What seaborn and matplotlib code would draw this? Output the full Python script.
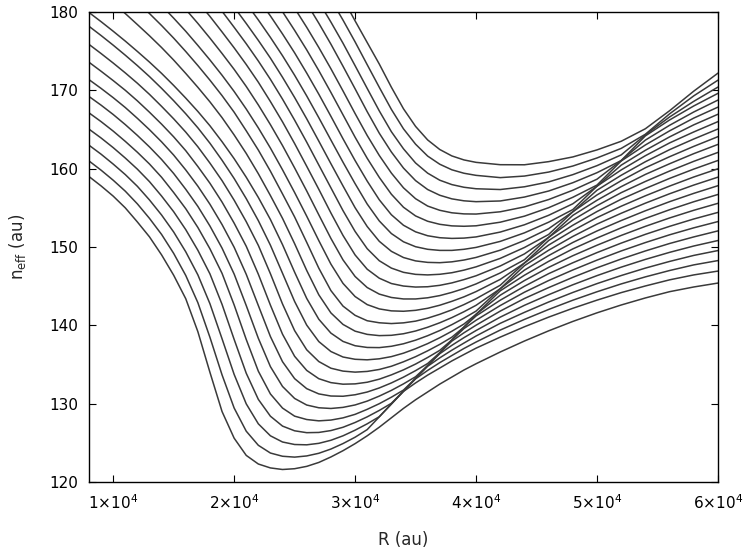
import numpy as np
import pandas as pd
import seaborn as sns
import matplotlib.pyplot as plt

nan = np.nan

# R grid (au): 1000 steps up to 40000, then 2000 steps
R = [8000, 9000, 10000, 11000, 12000, 13000, 14000, 15000, 16000, 17000,
     18000, 19000, 20000, 21000, 22000, 23000, 24000, 25000, 26000, 27000,
     28000, 29000, 30000, 31000, 32000, 33000, 34000, 35000, 36000, 37000,
     38000, 39000, 40000, 42000, 44000, 46000, 48000, 50000, 52000, 54000,
     56000, 58000, 60000]

# n_eff, one list per curve (bottom to top), nan = above the frame
n00 = [159.0, 157.8, 156.5, 155.0, 153.2, 151.3, 149.0, 146.4, 143.4, 139.2, 134.0, 129.0, 125.6, 123.4, 122.3, 121.8, 121.6, 121.7, 122.0, 122.5, 123.2, 124.0, 124.9, 125.9, 127.0, 128.2, 129.4, 130.5, 131.5, 132.5, 133.4, 134.3, 135.1,
       136.6, 138.0, 139.3, 140.5, 141.6, 142.6, 143.5, 144.3, 144.9, 145.4]
n01 = [160.99, 159.81, 158.53, 157.13, 155.51, 153.66, 151.61, 149.19, 146.37, 142.9, 138.47, 133.68, 129.45, 126.49, 124.69, 123.7, 123.29, 123.18, 123.33, 123.67, 124.21, 124.91, 125.72, 126.69, 128.32, 129.96, 131.57, 132.65, 133.65, 134.55, 135.46, 136.28, 137.09,
       138.5, 139.82, 141.05, 142.18, 143.22, 144.18, 145.03, 145.81, 146.44, 146.93]
n02 = [163.0, 161.85, 160.59, 159.25, 157.75, 156.01, 154.09, 151.92, 149.39, 146.45, 142.76, 138.29, 133.74, 129.98, 127.43, 125.9, 125.11, 124.79, 124.75, 124.94, 125.33, 125.9, 126.62, 127.43, 128.34, 129.96, 131.6, 133.17, 134.25, 135.24, 136.15, 137.05, 137.87,
       139.4, 140.76, 142.03, 143.21, 144.29, 145.29, 146.19, 147.0, 147.72, 148.27]
n03 = [165.05, 163.92, 162.69, 161.36, 159.94, 158.35, 156.51, 154.51, 152.22, 149.59, 146.57, 142.68, 138.21, 133.89, 130.55, 128.4, 127.14, 126.54, 126.3, 126.33, 126.57, 126.99, 127.6, 128.32, 129.14, 130.05, 131.6, 133.23, 134.78, 135.85, 136.83, 137.74, 138.64,
       140.26, 141.66, 142.98, 144.2, 145.33, 146.36, 147.31, 148.16, 148.93, 149.55]
n04 = [167.13, 166.01, 164.8, 163.49, 162.1, 160.6, 158.91, 156.96, 154.89, 152.5, 149.77, 146.64, 142.61, 138.2, 134.15, 131.24, 129.44, 128.41, 127.98, 127.81, 127.91, 128.19, 128.64, 129.28, 130.0, 130.83, 131.74, 133.23, 134.87, 136.38, 137.45, 138.43, 139.34,
       141.05, 142.56, 143.91, 145.18, 146.35, 147.43, 148.42, 149.32, 150.13, 150.83]
n05 = [169.22, 168.11, 166.92, 165.63, 164.25, 162.78, 161.18, 159.39, 157.37, 155.19, 152.68, 149.86, 146.55, 142.53, 138.35, 134.73, 132.2, 130.67, 129.83, 129.48, 129.39, 129.53, 129.84, 130.33, 130.97, 131.7, 132.53, 133.44, 134.87, 136.5, 137.99, 139.05, 140.02,
       141.82, 143.43, 144.82, 146.13, 147.35, 148.47, 149.5, 150.45, 151.29, 152.06]
n06 = [171.37, 170.25, 169.07, 167.81, 166.43, 164.98, 163.43, 161.74, 159.84, 157.77, 155.46, 152.87, 149.97, 146.52, 142.53, 138.57, 135.36, 133.2, 131.92, 131.25, 130.98, 130.95, 131.14, 131.49, 132.01, 132.65, 133.39, 134.22, 135.13, 136.5, 138.14, 139.59, 140.65,
       142.53, 144.23, 145.72, 147.07, 148.33, 149.5, 150.57, 151.56, 152.45, 153.25]
n07 = [173.59, 172.44, 171.25, 170.01, 168.66, 167.21, 165.69, 164.07, 162.3, 160.28, 158.14, 155.74, 153.05, 150.1, 146.53, 142.58, 138.87, 136.05, 134.25, 133.19, 132.69, 132.49, 132.53, 132.74, 133.13, 133.68, 134.32, 135.06, 135.9, 136.81, 138.14, 139.78, 141.2,
       143.21, 144.99, 146.6, 147.99, 149.29, 150.5, 151.62, 152.64, 153.58, 154.42]
n08 = [175.87, 174.7, 173.49, 172.23, 170.91, 169.49, 167.96, 166.37, 164.67, 162.8, 160.71, 158.48, 155.98, 153.24, 150.21, 146.59, 142.73, 139.33, 136.88, 135.38, 134.53, 134.16, 134.03, 134.12, 134.37, 134.78, 135.35, 136.0, 136.75, 137.57, 138.49, 139.78, 141.41,
       143.85, 145.72, 147.4, 148.89, 150.23, 151.48, 152.64, 153.71, 154.69, 155.58]
n09 = [178.18, 177.0, 175.77, 174.49, 173.16, 171.76, 170.26, 168.68, 167.01, 165.22, 163.25, 161.08, 158.75, 156.18, 153.37, 150.23, 146.65, 143.05, 140.03, 137.93, 136.66, 135.96, 135.67, 135.6, 135.73, 136.01, 136.45, 137.02, 137.67, 138.42, 139.25, 140.17, 141.41,
       144.41, 146.4, 148.17, 149.76, 151.15, 152.45, 153.65, 154.76, 155.78, 156.71]
n10 = [179.94, 178.77, 177.55, 176.29, 174.97, 173.61, 172.17, 170.63, 169.01, 167.31, 165.48, 163.45, 161.28, 158.91, 156.33, 153.51, 150.3, 146.79, 143.44, 140.78, 139.01, 137.95, 137.4, 137.18, 137.16, 137.33, 137.65, 138.11, 138.68, 139.34, 140.09, 140.92, 141.82,
       144.68, 147.05, 148.91, 150.58, 152.05, 153.38, 154.63, 155.79, 156.85, 157.83]
n11 = [nan, nan,
       181.14, 179.81, 178.4, 176.97, 175.47, 173.87, 172.16, 170.39, 168.53, 166.52, 164.31, 161.95, 159.36, 156.57, 153.66, 150.43, 147.01, 143.9, 141.59, 140.12, 139.26, 138.85, 138.69, 138.73, 138.93, 139.28, 139.76, 140.33, 140.99, 141.74, 142.56,
       144.68, 147.62, 149.59, 151.35, 152.93, 154.31, 155.6, 156.8, 157.91, 158.92]
n12 = [nan, nan, nan, nan,
       181.3, 179.81, 178.28, 176.67, 174.96, 173.17, 171.3, 169.33, 167.21, 164.84, 162.38, 159.68, 156.78, 153.84, 150.6, 147.3, 144.44, 142.46, 141.28, 140.59, 140.33, 140.23, 140.32, 140.54, 140.92, 141.41, 141.98, 142.65, 143.4,
       145.12, 147.96, 150.25, 152.1, 153.76, 155.21, 156.54, 157.78, 158.94, 159.99]
n13 = [nan, nan, nan, nan, nan,
       182.34, 180.84, 179.22, 177.54, 175.74, 173.88, 171.93, 169.86, 167.62, 165.21, 162.63, 159.86, 156.96, 153.94, 150.82, 147.82, 145.36, 143.68, 142.65, 142.1, 141.85, 141.8, 141.92, 142.18, 142.57, 143.07, 143.64, 144.31,
       145.87, 147.96, 150.83, 152.78, 154.53, 156.1, 157.47, 158.76, 159.95, 161.05]
n14 = [nan, nan, nan, nan, nan, nan, nan,
       182.0, 180.34, 178.55, 176.67, 174.71, 172.68, 170.5, 168.14, 165.62, 162.95, 160.1, 157.16, 154.11, 151.1, 148.36, 146.24, 144.83, 143.99, 143.56, 143.37, 143.37, 143.52, 143.8, 144.21, 144.7, 145.29,
       146.69, 148.38, 151.23, 153.45, 155.28, 156.94, 158.37, 159.7, 160.94, 162.08]
n15 = [nan, nan, nan, nan, nan, nan, nan, nan,
       182.99, 181.31, 179.44, 177.46, 175.43, 173.3, 171.04, 168.57, 165.98, 163.21, 160.31, 157.37, 154.35, 151.48, 148.99, 147.17, 146.02, 145.34, 145.02, 144.89, 144.93, 145.11, 145.42, 145.84, 146.33,
       147.58, 149.12, 151.23, 154.04, 155.97, 157.71, 159.27, 160.63, 161.92, 163.1]
n16 = [nan, nan, nan, nan, nan, nan, nan, nan, nan, nan,
       182.02, 180.1, 178.05, 175.96, 173.75, 171.4, 168.88, 166.2, 163.39, 160.47, 157.56, 154.65, 151.99, 149.79, 148.25, 147.31, 146.77, 146.51, 146.44, 146.52, 146.72, 147.05, 147.47,
       148.55, 149.94, 151.6, 154.5, 156.65, 158.47, 160.12, 161.53, 162.85, 164.09]
n17 = [nan, nan, nan, nan, nan, nan, nan, nan, nan, nan, nan,
       182.59, 180.63, 178.54, 176.38, 174.12, 171.67, 169.09, 166.37, 163.52, 160.64, 157.8, 155.02, 152.62, 150.73, 149.45, 148.66, 148.23, 148.04, 148.0, 148.11, 148.34, 148.67,
       149.6, 150.84, 152.34, 154.5, 157.25, 159.16, 160.89, 162.43, 163.79, 165.07]
n18 = [nan, nan, nan, nan, nan, nan, nan, nan, nan, nan, nan, nan, nan,
       181.12, 178.99, 176.76, 174.42, 171.93, 169.29, 166.51, 163.66, 160.83, 158.09, 155.49, 153.33, 151.72, 150.67, 150.04, 149.71, 149.57, 149.57, 149.71, 149.95,
       150.72, 151.81, 153.17, 154.78, 157.77, 159.84, 161.66, 163.29, 164.69, 166.01]
n19 = [nan, nan, nan, nan, nan, nan, nan, nan, nan, nan, nan, nan, nan, nan,
       181.65, 179.5, 177.2, 174.79, 172.21, 169.51, 166.69, 163.82, 161.04, 158.42, 156.03, 154.12, 152.78, 151.94, 151.44, 151.19, 151.1, 151.14, 151.29,
       151.91, 152.84, 154.05, 155.52, 157.77, 160.45, 162.35, 164.06, 165.6, 166.95]
n20 = [nan, nan, nan, nan, nan, nan, nan, nan, nan, nan, nan, nan, nan, nan, nan,
       182.25, 180.04, 177.66, 175.17, 172.52, 169.74, 166.88, 164.02, 161.33, 158.89, 156.74, 155.08, 153.97, 153.29, 152.9, 152.7, 152.65, 152.71,
       153.17, 153.94, 155.02, 156.35, 157.91, 160.98, 163.03, 164.83, 166.46, 167.86]
n21 = [nan, nan, nan, nan, nan, nan, nan, nan, nan, nan, nan, nan, nan, nan, nan, nan,
       182.76, 180.49, 178.05, 175.47, 172.76, 169.93, 167.04, 164.24, 161.69, 159.44, 157.56, 156.17, 155.23, 154.69, 154.37, 154.23, 154.21,
       154.5, 155.12, 156.06, 157.25, 158.66, 161.04, 163.65, 165.54, 167.24, 168.76]
n22 = [nan, nan, nan, nan, nan, nan, nan, nan, nan, nan, nan, nan, nan, nan, nan, nan, nan,
       183.43, 181.11, 178.57, 175.9, 173.08, 170.2, 167.28, 164.53, 162.13, 160.08, 158.48, 157.34, 156.61, 156.15, 155.9, 155.79,
       155.88, 156.38, 157.15, 158.21, 159.49, 161.04, 164.19, 166.22, 168.01, 169.62]
n23 = [nan, nan, nan, nan, nan, nan, nan, nan, nan, nan, nan, nan, nan, nan, nan, nan, nan, nan, nan,
       181.3, 178.72, 176.02, 173.15, 170.25, 167.38, 164.72, 162.54, 160.73, 159.43, 158.53, 157.97, 157.63, 157.44,
       157.34, 157.69, 158.31, 159.24, 160.39, 161.76, 164.32, 166.6, 168.6, 170.42]
n24 = [nan, nan, nan, nan, nan, nan, nan, nan, nan, nan, nan, nan, nan, nan, nan, nan, nan, nan, nan, nan,
       181.61, 178.97, 176.19, 173.28, 170.39, 167.57, 165.09, 163.13, 161.61, 160.57, 159.86, 159.42, 159.15,
       158.86, 159.06, 159.57, 160.34, 161.37, 162.59, 164.4, 167.0, 169.3, 171.3]
n25 = [nan, nan, nan, nan, nan, nan, nan, nan, nan, nan, nan, nan, nan, nan, nan, nan, nan, nan, nan, nan, nan,
       181.7, 178.87, 176.11, 173.36, 170.4, 167.65, 165.4, 163.67, 162.45, 161.63, 161.12, 160.81,
       160.51, 160.5, 160.9, 161.5, 162.4, 163.5, 165.1, 167.4, 169.9, 172.2]

curves = [n00, n01, n02, n03, n04, n05, n06, n07, n08, n09, n10, n11, n12,
          n13, n14, n15, n16, n17, n18, n19, n20, n21, n22, n23, n24, n25]

x_ticks = [10000, 20000, 30000, 40000, 50000, 60000]
x_labels = [r"$1{\times}10^{4}$", r"$2{\times}10^{4}$", r"$3{\times}10^{4}$",
            r"$4{\times}10^{4}$", r"$5{\times}10^{4}$", r"$6{\times}10^{4}$"]
y_ticks = [120, 130, 140, 150, 160, 170, 180]

# long table for seaborn
rows = []
for i, c in enumerate(curves):
    assert len(c) == len(R), (i, len(c))
    for r, v in zip(R, c):
        if not np.isnan(v):
            rows.append((i, r, v))
df = pd.DataFrame(rows, columns=["curve", "R", "n_eff"])

sns.set_theme(style="ticks")
plt.rcParams["font.family"] = ["DejaVu Sans"]

fig = plt.figure(figsize=(7.51, 5.57), dpi=100)
ax = fig.add_axes([0.1185, 0.1346, 0.8375, 0.8438])

sns.lineplot(data=df, x="R", y="n_eff", units="curve", estimator=None,
             sort=False, color="#3a3a3a", linewidth=1.1, legend=False, ax=ax)

ax.set_xlim(8000, 60000)
ax.set_ylim(120, 180)
ax.set_xticks(x_ticks)
ax.set_xticklabels(x_labels)
ax.set_yticks(y_ticks)
ax.tick_params(direction="in", top=True, right=True, length=5, width=0.8,
               labelsize=11, pad=8, colors="black")
for s in ax.spines.values():
    s.set_color("black")
    s.set_linewidth(1.0)

ax.set_xlabel("R (au)", fontsize=12, labelpad=14)
ax.set_ylabel(r"n$_{\mathregular{eff}}$ (au)", fontsize=12, labelpad=15)

fig.savefig("out.png", dpi=100)
